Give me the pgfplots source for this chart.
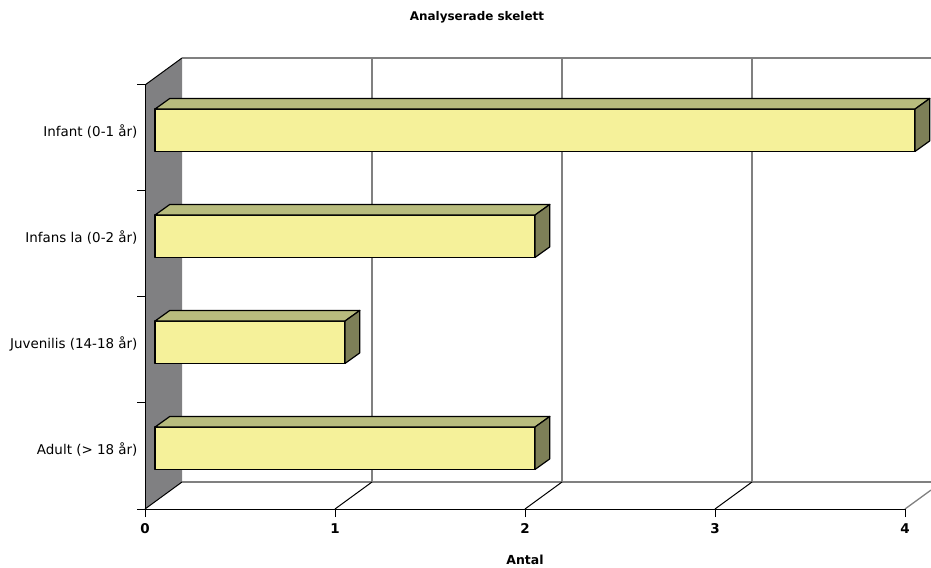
\documentclass[border=0pt]{standalone}
\usepackage{fontspec}
\setmainfont{DejaVu Sans}
\usepackage{pgfplots}
\pgfplotsset{compat=1.18}

\definecolor{wallgray}{RGB}{128,128,130}
\definecolor{gridgray}{RGB}{128,128,128}
\definecolor{barfront}{RGB}{245,241,154}
\definecolor{bartop}{RGB}{184,188,126}
\definecolor{barside}{RGB}{125,127,87}

% 3D bar: #1 = value, #2 = centre of the category
\newcommand\tdbar[2]{%
  \pgfmathsetmacro\xl{0.0526}%
  \pgfmathsetmacro\xr{0.0526+#1}%
  \pgfmathsetmacro\yb{#2-0.2}%
  \pgfmathsetmacro\yt{#2+0.2}%
  \pgfmathsetmacro\xrr{\xr+0.078}%
  \pgfmathsetmacro\xlr{\xl+0.078}%
  \pgfmathsetmacro\ytt{\yt+0.1}%
  \pgfmathsetmacro\ybb{\yb+0.1}%
  \edef\tmp{%
    \noexpand\addplot[draw=black, fill=barfront, line width=1.2bp, line join=round]
      coordinates {(\xl,\yb) (\xr,\yb) (\xr,\yt) (\xl,\yt)} -- cycle;
    \noexpand\addplot[draw=black, fill=bartop, line width=1.2bp, line join=round]
      coordinates {(\xl,\yt) (\xr,\yt) (\xrr,\ytt) (\xlr,\ytt)} -- cycle;
    \noexpand\addplot[draw=black, fill=barside, line width=1.2bp, line join=round]
      coordinates {(\xr,\yb) (\xrr,\ybb) (\xrr,\ytt) (\xr,\yt)} -- cycle;
  }\tmp
}

\begin{document}
\begin{tikzpicture}
\begin{axis}[
    x=190bp, y=106bp,
    xmin=0, xmax=4, ymin=0, ymax=4,
    axis x line*=bottom, axis y line*=left,
    axis on top,
    clip=false,
    xtick={0,1,2,3,4},
    ytick={0,1,2,3,4}, yticklabels={},
    extra y ticks={0.573,1.573,2.573,3.573},
    extra y tick labels={Adult (> 18 år), Juvenilis (14-18 år), Infans la (0-2 år), Infant (0-1 år)},
    extra y tick style={major tick length=0pt, yticklabel style={xshift=-4bp, yshift=-1.5bp}},
    tick align=outside,
    major tick length=8bp,
    tick style={black, line width=1bp},
    axis line style={black, line width=1bp},
    /pgf/number format/assume math mode=true,
    xticklabel style={font=\bfseries\fontsize{13.5}{15}\selectfont, yshift=-3bp},
    yticklabel style={font=\fontsize{13.5}{15}\selectfont},
    title={Analyserade skelett},
    title style={font=\bfseries\fontsize{12}{14}\selectfont,
        at={(axis description cs:0.4368,1.145)}, anchor=center},
    xlabel={Antal},
    xlabel style={font=\bfseries\fontsize{12.5}{14}\selectfont,
        at={(axis description cs:0.5,-0.1203)}, anchor=center},
]
% side wall
\addplot[fill=wallgray, draw=none] coordinates {(0,0) (0,4) (0.195,4.255) (0.195,0.255)} -- cycle;
\addplot[black, line width=1bp] coordinates {(0,4) (0.195,4.255)};
\addplot[black, line width=1bp] coordinates {(0,0) (0.195,0.255)};
% back wall grid
\addplot[gridgray, line width=1.3bp] coordinates {(0.195,4.255) (4.137,4.255)};
\addplot[gridgray, line width=1.3bp] coordinates {(0.195,0.255) (4.137,0.255)};
\addplot[gridgray, line width=1.3bp] coordinates {(1.195,0.255) (1.195,4.255)};
\addplot[gridgray, line width=1.3bp] coordinates {(2.195,0.255) (2.195,4.255)};
\addplot[gridgray, line width=1.3bp] coordinates {(3.195,0.255) (3.195,4.255)};
% floor
\addplot[black, line width=1bp] coordinates {(1,0) (1.195,0.255)};
\addplot[black, line width=1bp] coordinates {(2,0) (2.195,0.255)};
\addplot[black, line width=1bp] coordinates {(3,0) (3.195,0.255)};
\addplot[gridgray, line width=1.3bp] coordinates {(4,0) (4.137,0.179)};
% bars
\tdbar{2}{0.573}
\tdbar{1}{1.573}
\tdbar{2}{2.573}
\tdbar{4}{3.573}
\coordinate (bl) at (axis cs:-0.7632,-0.5566);
\coordinate (tr) at (axis cs:4.1368,4.8019);
\end{axis}
\pgfresetboundingbox
\path (bl) rectangle (tr);
\end{tikzpicture}
\end{document}
